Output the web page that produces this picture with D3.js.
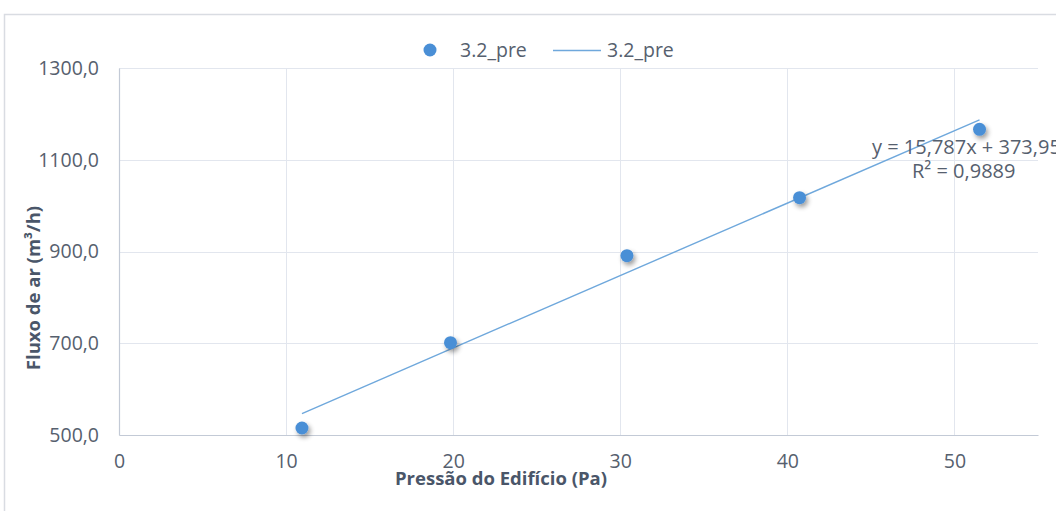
<!DOCTYPE html>
<html>
<head>
<meta charset="utf-8">
<script src="https://cdn.jsdelivr.net/npm/d3@7"></script>
<style>
  html, body { margin: 0; padding: 0; background: #fff; }
  svg { display: block; font-family: "Open Sans", "Noto Sans", sans-serif; }
</style>
</head>
<body>
<svg id="chart" width="1056" height="511"></svg>
<script>
// Measured building pressure (Pa) vs. air flow (m³/h)
const pressure = [10.95, 19.84, 30.4, 40.73, 51.5];
const airflow = [515.3, 701.2, 890.8, 1017.3, 1166.4];
const seriesName = "3.2_pre";

// Linear trendline coefficients as reported
const slope = 15.787;
const intercept = 373.95;
const r2Label = "R² = 0,9889";
const eqLabel = "y = 15,787x + 373,95";

const xTicks = [0, 10, 20, 30, 40, 50];
const yTicks = [500, 700, 900, 1100, 1300];

const svg = d3.select("#chart");
const W = 1056, H = 511;
const textColor = "#56606E";
const titleColor = "#4A5669";

// Chart frame
svg.append("rect")
  .attr("x", 4.5).attr("y", 14.5)
  .attr("width", W + 10).attr("height", H + 10)
  .attr("fill", "#fff").attr("stroke", "#D9DCE2").attr("stroke-width", 1.5);

const x = d3.scaleLinear().domain([0, 55]).range([119, 1038]);
const y = d3.scaleLinear().domain([500, 1300]).range([435, 68]);

const defs = svg.append("defs");
const shadow = defs.append("filter").attr("id", "dropShadow")
  .attr("x", "-100%").attr("y", "-100%").attr("width", "300%").attr("height", "300%");
shadow.append("feGaussianBlur").attr("in", "SourceAlpha").attr("stdDeviation", 2.4).attr("result", "b");
shadow.append("feOffset").attr("in", "b").attr("dx", 1.5).attr("dy", 3).attr("result", "o");
shadow.append("feComponentTransfer").attr("in", "o").attr("result", "s")
  .append("feFuncA").attr("type", "linear").attr("slope", 0.4);
const merge = shadow.append("feMerge");
merge.append("feMergeNode").attr("in", "s");
merge.append("feMergeNode").attr("in", "SourceGraphic");

// Gridlines
const grid = svg.append("g");
grid.selectAll("line.h").data(yTicks.filter(d => d > 500)).join("line")
  .attr("x1", x(0)).attr("x2", x(55))
  .attr("y1", d => Math.round(y(d)) + 0.5).attr("y2", d => Math.round(y(d)) + 0.5)
  .attr("stroke", "#E2E6EE").attr("stroke-width", 1);
grid.selectAll("line.v").data(xTicks.filter(d => d > 0)).join("line")
  .attr("y1", y(500)).attr("y2", y(1300))
  .attr("x1", d => Math.round(x(d)) + 0.5).attr("x2", d => Math.round(x(d)) + 0.5)
  .attr("stroke", "#E2E6EE").attr("stroke-width", 1);

// Axes
const yAxis = d3.axisLeft(y).tickValues(yTicks).tickSize(0).tickPadding(20)
  .tickFormat(d => d3.format(".1f")(d).replace(".", ","));
const gy = svg.append("g").attr("transform", `translate(${x(0)},0)`).call(yAxis);
gy.select(".domain").attr("stroke", "#C3CAD6").attr("stroke-width", 1.2);
gy.selectAll("text").attr("fill", textColor).attr("font-size", 19.5).attr("font-family", "Open Sans");

const xAxis = d3.axisBottom(x).tickValues(xTicks).tickSize(0).tickPadding(19);
const gx = svg.append("g").attr("transform", `translate(0,${y(500)})`).call(xAxis);
gx.select(".domain").attr("stroke", "#C3CAD6").attr("stroke-width", 1.2);
gx.selectAll("text").attr("fill", textColor).attr("font-size", 19.5).attr("font-family", "Open Sans");

// Axis titles
svg.append("text")
  .attr("transform", `translate(40,288) rotate(-90)`)
  .attr("text-anchor", "middle")
  .attr("fill", titleColor).attr("font-weight", "bold").attr("font-size", 18.5)
  .text("Fluxo de ar (m³/h)");
svg.append("text")
  .attr("x", 501).attr("y", 485)
  .attr("text-anchor", "middle")
  .attr("fill", titleColor).attr("font-weight", "bold").attr("font-size", 18.5)
  .text("Pressão do Edifício (Pa)");

// Trendline across the data range
const xMin = d3.min(pressure), xMax = d3.max(pressure);
svg.append("line")
  .attr("x1", x(xMin)).attr("y1", y(slope * xMin + intercept))
  .attr("x2", x(xMax)).attr("y2", y(slope * xMax + intercept))
  .attr("stroke", "#6FA8DC").attr("stroke-width", 1.4);

// Data points
svg.append("g").selectAll("circle").data(pressure).join("circle")
  .attr("cx", d => x(d))
  .attr("cy", (d, i) => y(airflow[i]))
  .attr("r", 6.5)
  .attr("fill", "#4A8FD6")
  .attr("filter", "url(#dropShadow)");

// Trendline label
svg.append("text").attr("x", 872).attr("y", 154)
  .attr("fill", textColor).attr("font-size", 20).text(eqLabel);
svg.append("text").attr("x", 912).attr("y", 178)
  .attr("fill", textColor).attr("font-size", 20).text(r2Label);

// Legend
const lg = svg.append("g");
lg.append("circle").attr("cx", 430).attr("cy", 50).attr("r", 6.5).attr("fill", "#4A8FD6");
lg.append("text").attr("x", 460).attr("y", 57).attr("fill", textColor).attr("font-size", 19.5).text(seriesName);
lg.append("line").attr("x1", 553).attr("x2", 601).attr("y1", 50.5).attr("y2", 50.5)
  .attr("stroke", "#6FA8DC").attr("stroke-width", 1.4);
lg.append("text").attr("x", 607).attr("y", 57).attr("fill", textColor).attr("font-size", 19.5).text(seriesName);
</script>
</body>
</html>
